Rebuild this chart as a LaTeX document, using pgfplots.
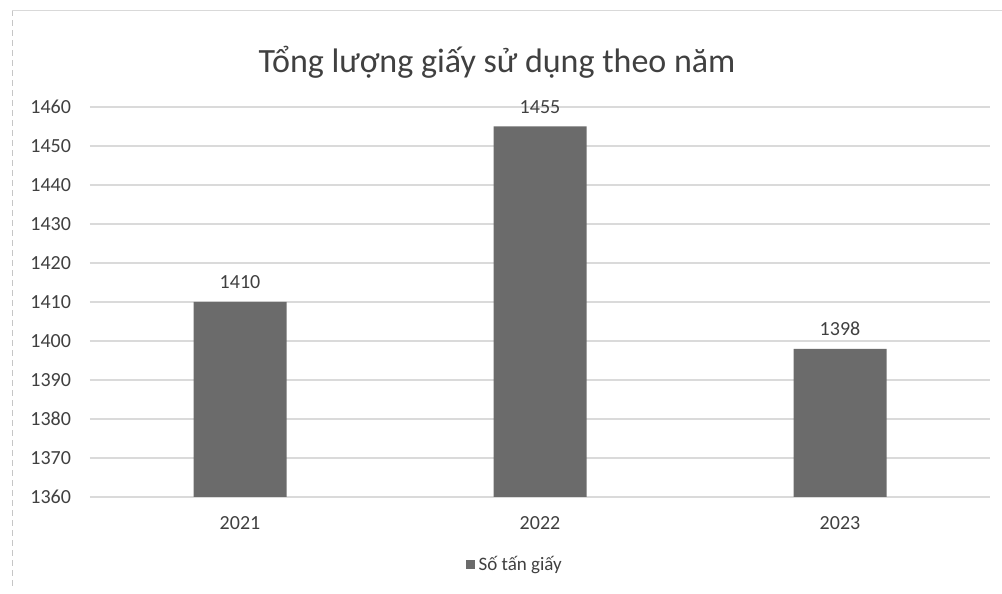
\documentclass[border=0pt]{standalone}
\usepackage{pgfplots}
\pgfplotsset{compat=1.18}
\usepackage{fontspec}
\setmainfont{Carlito}
\definecolor{txt}{HTML}{404040}
\definecolor{barc}{HTML}{6B6B6B}
\definecolor{gridc}{HTML}{DADADA}
\begin{document}
\begin{tikzpicture}[x=1pt,y=1pt]
\path[use as bounding box] (0,0) rectangle (501,297);
\draw[gray!45, densely dashed] (6,4) -- (6,292);
\draw[gray!30] (6,292) -- (501,292);
\node[font=\fontsize{17}{20}\selectfont, text=txt] at (248.5,266) {Tổng lượng giấy sử dụng theo năm};
\begin{axis}[
  at={(45pt,48.5pt)}, anchor=south west,
  scale only axis, width=450pt, height=195pt,
  xmin=-0.5, xmax=2.5, ymin=1360, ymax=1460,
  ytick distance=10,
  xtick={0,1,2}, xticklabels={2021,2022,2023},
  ymajorgrids, major grid style={gridc, line width=0.6pt},
  axis line style={draw=none}, major tick length=0pt,
  tick label style={font=\fontsize{10}{12}\selectfont, text=txt},
  /pgf/number format/assume math mode=true,
  /pgf/number format/1000 sep={},
  yticklabel style={xshift=-6pt},
  xticklabel style={yshift=-6pt},
  ybar, bar width=46.5pt,
  nodes near coords,
  every node near coord/.append style={font=\fontsize{10}{12}\selectfont, text=txt, yshift=3pt},
  legend style={at={(0.473,-0.174)}, anchor=center, draw=none, fill=none,
    font=\fontsize{9.5}{11}\selectfont, text=txt},
  legend image code/.code={\fill[barc] (0pt,-2pt) rectangle (4.5pt,2.5pt);},
]
\addplot[fill=barc, draw=none] coordinates {(0,1410) (1,1455) (2,1398)};
\addlegendentry{Số tấn giấy}
\end{axis}
\end{tikzpicture}
\end{document}
